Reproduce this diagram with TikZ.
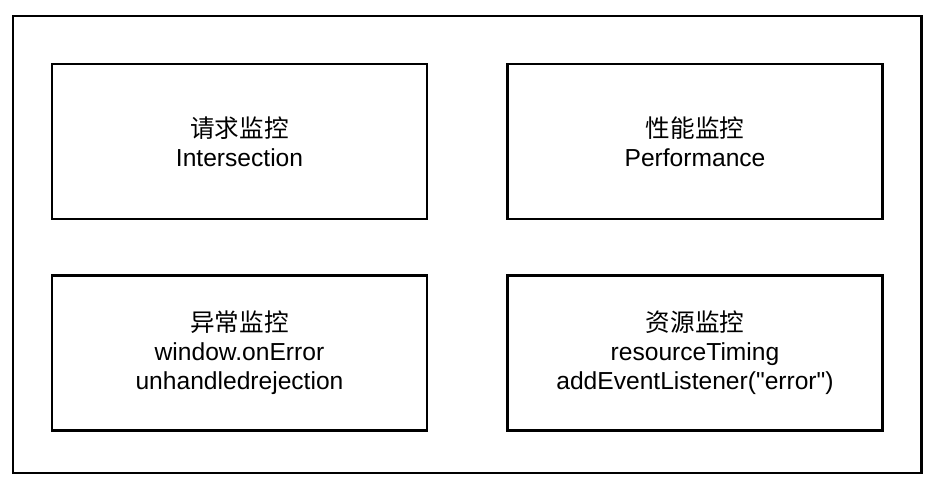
\documentclass[tikz,border=0pt]{standalone}
\usepackage{fontspec}
\newfontfamily\lat{Liberation Sans}
\newfontfamily\cjk{Noto Sans CJK SC}
\begin{document}
\begin{tikzpicture}
        \tikzstyle{blk} = [draw, black, line width=1.2pt, minimum width=7.5cm, minimum height=3.1cm, align=center, font=\lat\fontsize{14}{16.5}\selectfont]
        \useasboundingbox (0, 0) rectangle (18.74, -9.74);
        
        \node[draw, line width=1.2pt, minimum width=18.17cm, minimum height=9.14cm] (frame) at (9.345, -4.89) {};
        \node[blk] (request) at (4.79, -2.83) {{\cjk 请求监控}\\Intersection};
        \node[blk] (perf) at (13.9, -2.83) {{\cjk 性能监控}\\Performance};
        \node[blk] (error) at (4.79, -7.06) {{\cjk 异常监控}\\window.onError\\unhandledrejection};
        \node[blk] (resource) at (13.9, -7.06) {{\cjk 资源监控}\\resourceTiming\\addEventListener("error")};
    \end{tikzpicture}
\end{document}
